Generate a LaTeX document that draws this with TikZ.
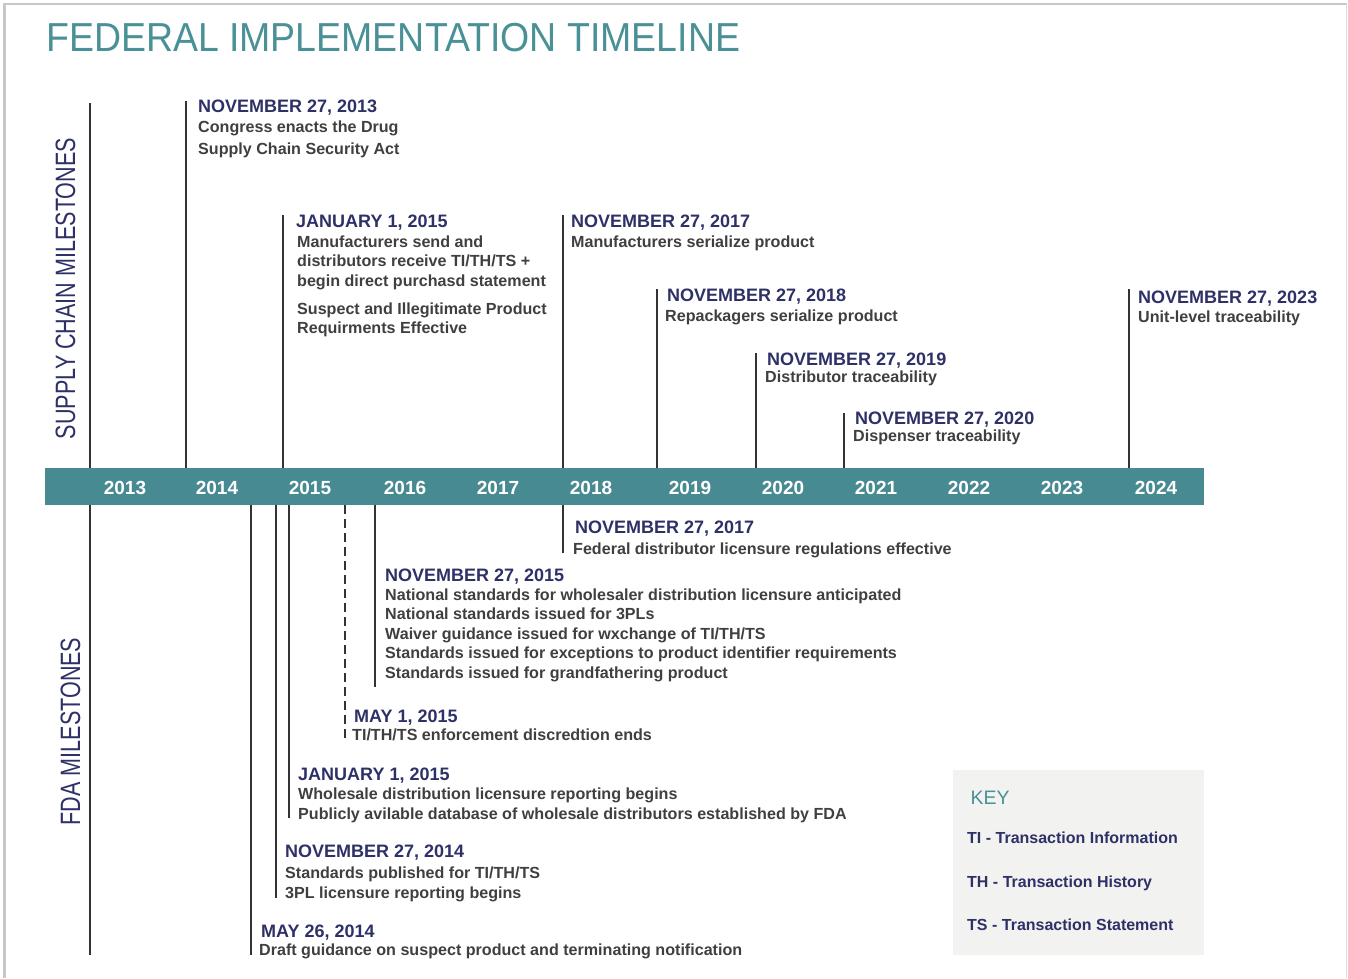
\documentclass[tikz,border=0pt]{standalone}
\usepackage{fontspec}
\setmainfont{Liberation Sans}
\usepackage{graphicx}

\definecolor{titleteal}{HTML}{4A9097}
\definecolor{barteal}{HTML}{488A91}
\definecolor{navy}{HTML}{2E3167}
\definecolor{bodygray}{HTML}{3F3F3F}
\definecolor{rulegray}{HTML}{333333}
\definecolor{keyfill}{HTML}{F2F2F0}
\definecolor{framegray}{HTML}{C8C8C8}
\definecolor{framelight}{HTML}{DEDEDE}

\begin{document}
\begin{tikzpicture}[x=1pt,y=-1pt,
  datelbl/.style={font=\fontsize{18}{20}\selectfont\bfseries, text=navy, anchor=base west, inner sep=0pt},
  % multi-line body nodes are placed by the baseline of their last line
  bodylbl/.style={font=\fontsize{16.1}{19.5}\selectfont\bfseries, text=bodygray, anchor=base west, inner sep=0pt, align=left},
  yearlbl/.style={font=\fontsize{19}{20}\selectfont\bfseries, text=white, anchor=base, inner sep=0pt},
  sidelbl/.style={font=\fontsize{28}{30}\selectfont, text=navy, anchor=base, rotate=90, inner sep=0pt},
  keylbl/.style={font=\fontsize{16}{19}\selectfont\bfseries, text=navy, anchor=base west, inner sep=0pt},
  mline/.style={draw=rulegray, line width=1.2pt},
  dline/.style={draw=rulegray, line width=1.2pt, dash pattern=on 9pt off 5pt}]
\useasboundingbox (0,0) rectangle (1348,978);

% page frame
\draw[framegray, line width=2.5pt] (4.6,978) -- (4.6,4) -- (1346.5,4);
\draw[framelight, line width=1.5pt] (1346.5,4) -- (1346.5,978);

% title
\node[anchor=base west, inner sep=0pt, text=titleteal, font=\fontsize{40.5}{42}\selectfont]
  (title) at (46,51.7) {\scalebox{0.925}[1]{FEDERAL IMPLEMENTATION TIMELINE}};

% year bar
\node[fill=barteal, minimum width=1159pt, minimum height=37pt, inner sep=0pt, anchor=north west]
  (bar) at (45,467.5) {};
\node[yearlbl] (y2013) at (125,494) {2013};
\node[yearlbl] (y2014) at (217,494) {2014};
\node[yearlbl] (y2015) at (310,494) {2015};
\node[yearlbl] (y2016) at (405,494) {2016};
\node[yearlbl] (y2017) at (498,494) {2017};
\node[yearlbl] (y2018) at (591,494) {2018};
\node[yearlbl] (y2019) at (690,494) {2019};
\node[yearlbl] (y2020) at (783,494) {2020};
\node[yearlbl] (y2021) at (876,494) {2021};
\node[yearlbl] (y2022) at (969,494) {2022};
\node[yearlbl] (y2023) at (1062,494) {2023};
\node[yearlbl] (y2024) at (1156,494) {2024};

% section labels
\node[sidelbl] (sclabel) at (75,288.5) {\scalebox{0.77}[1]{SUPPLY CHAIN MILESTONES}};
\node[sidelbl] (fdalabel) at (80,731.5) {\scalebox{0.77}[1]{FDA MILESTONES}};

% ---------- supply chain milestones (above the bar) ----------
\coordinate (scaxis) at (90,103);
\coordinate (u2013) at (186,101);
\coordinate (u2015) at (283,215);
\coordinate (u2017) at (563,215);
\coordinate (u2018) at (657,289);
\coordinate (u2019) at (756,353);
\coordinate (u2020) at (844,413);
\coordinate (u2023) at (1129,289);
\foreach \c in {scaxis,u2013,u2015,u2017,u2018,u2019,u2020,u2023}
  \draw[mline] (\c) -- (\c |- bar.north);

\node[datelbl] (d2013) at (198,112.7) {NOVEMBER 27, 2013};
\node[bodylbl] (b2013) at (198,154.5) {Congress enacts the Drug\\[2.5pt]Supply Chain Security Act};

\node[datelbl] (d2015) at (296,227.5) {JANUARY 1, 2015};
\node[bodylbl] (b2015) at (297,333.5) {Manufacturers send and\\distributors receive TI/TH/TS +\\begin direct purchasd statement\\[8.5pt]Suspect and Illegitimate Product\\Requirments Effective};

\node[datelbl] (d2017) at (571,227.3) {NOVEMBER 27, 2017};
\node[bodylbl] (b2017) at (571,247.2) {Manufacturers serialize product};

\node[datelbl] (d2018) at (667,301.5) {NOVEMBER 27, 2018};
\node[bodylbl] (b2018) at (665,321.3) {Repackagers serialize product};

\node[datelbl] (d2019) at (767,365) {NOVEMBER 27, 2019};
\node[bodylbl] (b2019) at (765,382) {Distributor traceability};

\node[datelbl] (d2020) at (855,424) {NOVEMBER 27, 2020};
\node[bodylbl] (b2020) at (853,441.5) {Dispenser traceability};

\node[datelbl] (d2023) at (1138,303.3) {NOVEMBER 27, 2023};
\node[bodylbl] (b2023) at (1138,322) {Unit-level traceability};

% ---------- FDA milestones (below the bar) ----------
\coordinate (fdaaxis) at (90,955);
\coordinate (l2014a) at (251,955);
\coordinate (l2014b) at (276,898);
\coordinate (l2015a) at (289,818);
\coordinate (l2015c) at (375,687);
\coordinate (l2017) at (563,553);
\coordinate (l2015b) at (345,740);
\foreach \c in {fdaaxis,l2014a,l2014b,l2015a,l2015c,l2017}
  \draw[mline] (\c |- bar.south) -- (\c);
\draw[dline] (l2015b |- bar.south) -- (l2015b);

\node[datelbl] (f2017) at (575,533.5) {NOVEMBER 27, 2017};
\node[bodylbl] (g2017) at (573,554.3) {Federal distributor licensure regulations effective};

\node[datelbl] (f2015c) at (385,581) {NOVEMBER 27, 2015};
\node[bodylbl] (g2015c) at (385,678) {National standards for wholesaler distribution licensure anticipated\\National standards issued for 3PLs\\Waiver guidance issued for wxchange of TI/TH/TS\\Standards issued for exceptions to product identifier requirements\\Standards issued for grandfathering product};

\node[datelbl] (f2015b) at (354,722) {MAY 1, 2015};
\node[bodylbl] (g2015b) at (352,740) {TI/TH/TS enforcement discredtion ends};

\node[datelbl] (f2015a) at (298,780.3) {JANUARY 1, 2015};
\node[bodylbl] (g2015a) at (298,819) {Wholesale distribution licensure reporting begins\\[0.5pt]Publicly avilable database of wholesale distributors established by FDA};

\node[datelbl] (f2014b) at (285,857.5) {NOVEMBER 27, 2014};
\node[bodylbl] (g2014b) at (285,898.2) {Standards published for TI/TH/TS\\[0.5pt]3PL licensure reporting begins};

\node[datelbl] (f2014a) at (261,937.5) {MAY 26, 2014};
\node[bodylbl] (g2014a) at (259,955.3) {Draft guidance on suspect product and terminating notification};

% ---------- key ----------
\node[fill=keyfill, minimum width=251pt, minimum height=184.5pt, inner sep=0pt, anchor=north west]
  (keybox) at (953,770) {};
\node[anchor=base west, inner sep=0pt, text=titleteal, font=\fontsize{19.5}{21}\selectfont]
  (keytitle) at (970.5,804) {KEY};
\node[keylbl] (keyti) at (967,843.5) {TI - Transaction Information};
\node[keylbl] (keyth) at (967,887.2) {TH - Transaction History};
\node[keylbl] (keyts) at (967,930.2) {TS - Transaction Statement};

\end{tikzpicture}
\end{document}
